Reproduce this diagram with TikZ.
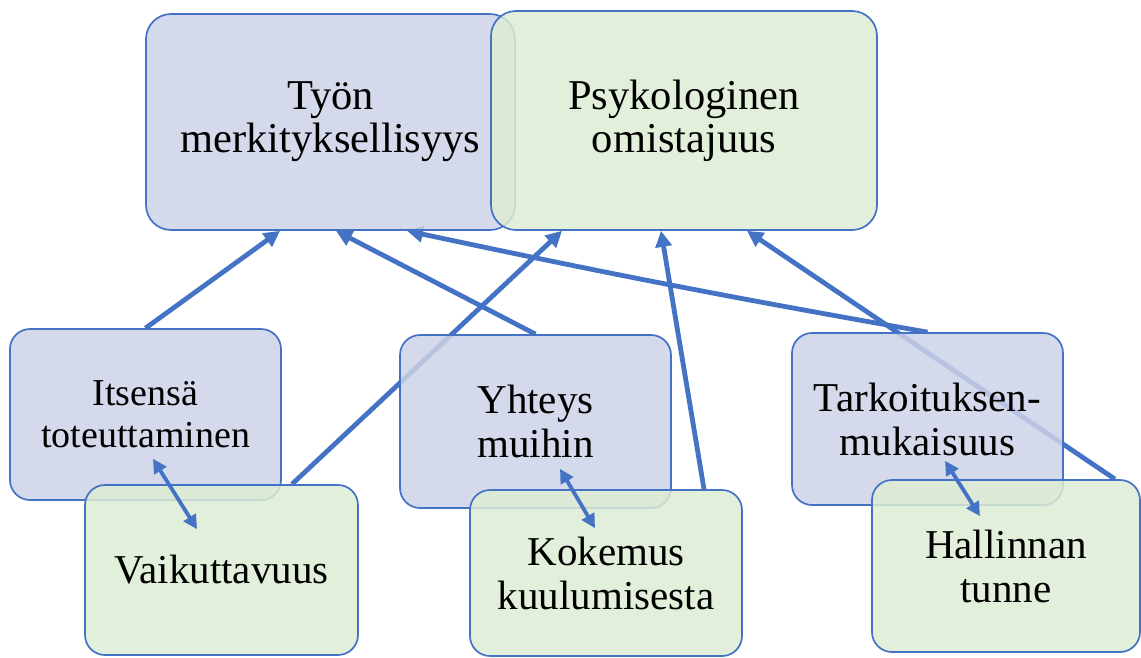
\documentclass[tikz,border=0pt]{standalone}
\usepackage{fontspec}
\setmainfont{Liberation Serif}
\usetikzlibrary{arrows.meta}
\pgfdeclarelayer{links}
\pgfdeclarelayer{front}
\pgfsetlayers{links,main,front}
\definecolor{edgeblue}{RGB}{68,114,196}
\definecolor{boxblue}{RGB}{204,210,231}
\definecolor{boxgreen}{RGB}{221,236,211}
\begin{document}
\begin{tikzpicture}[x=1pt,y=-1pt,
  box/.style={draw=edgeblue, line width=1.7pt, fill opacity=0.85, text opacity=1,
    align=center, inner sep=0pt, rounded corners=20pt,
    font=\fontsize{41}{44}\selectfont},
  bluebox/.style={box, fill=boxblue},
  greenbox/.style={box, fill=boxgreen},
  bigbox/.style={rounded corners=25pt, font=\fontsize{42.5}{43}\selectfont},
  link/.style={draw=edgeblue, line width=4.8pt, -{Triangle[length=16pt,width=16pt]}},
  pairlink/.style={draw=edgeblue, line width=3.8pt,
    {Triangle[length=14pt,width=14pt]}-{Triangle[length=14pt,width=14pt]}}
]
\useasboundingbox (0,0) rectangle (1141,657);

% upper pair of concepts
\node[bluebox, bigbox, minimum width=369pt, minimum height=216pt] (tyon) at (330.5,122)
  {Työn\\merkityksellisyys};
\node[greenbox, bigbox, minimum width=386pt, minimum height=219pt] (psyk) at (684,120.5)
  {Psykologinen\\omistajuus};

% lower row: blue and green boxes in overlapping pairs
\node[bluebox, minimum width=271pt, minimum height=171pt,
  font=\fontsize{38}{42}\selectfont] (its) at (145.5,414.5) {Itsensä\\toteuttaminen};
\node[greenbox, minimum width=273pt, minimum height=170pt] (vaik) at (221.5,570) {Vaikuttavuus};

\node[bluebox, minimum width=271pt, minimum height=173pt] (yht) at (535.5,421.5) {Yhteys\\muihin};
\node[greenbox, minimum width=272pt, minimum height=166pt] (kok) at (606,573) {Kokemus\\kuulumisesta};

\node[bluebox, minimum width=271pt, minimum height=172pt] (tark) at (927.5,419) {Tarkoituksen-\\mukaisuus};
\node[greenbox, minimum width=268pt, minimum height=172pt] (hal) at (1006,566) {Hallinnan\\tunne};

% upward links run behind the boxes
\begin{pgfonlayer}{links}
  \draw[link] (its.north) -- ([xshift=-50.5pt]tyon.south);
  \draw[link] ([xshift=70.5pt]vaik.north) -- ([xshift=-122pt]psyk.south);
  \draw[link] (yht.north) -- ([xshift=5.5pt]tyon.south);
  \draw[link] ([xshift=98pt]kok.north) -- ([xshift=-23pt]psyk.south);
  \draw[link] (tark.north) to[bend left=1] ([xshift=76.5pt]tyon.south);
  \draw[link] ([xshift=109pt]hal.north) -- ([xshift=63pt]psyk.south);
\end{pgfonlayer}

% two-way links between each blue box and its green box
\begin{pgfonlayer}{front}
  \draw[pairlink] ([xshift=7.5pt,yshift=42pt]its.south) -- ([xshift=-24.5pt,yshift=-45pt]vaik.north);
  \draw[pairlink] ([xshift=24.5pt,yshift=40pt]yht.south) -- ([xshift=-11pt,yshift=-39pt]kok.north);
  \draw[pairlink] ([xshift=17.5pt,yshift=45pt]tark.south) -- ([xshift=-26pt,yshift=-37pt]hal.north);
\end{pgfonlayer}
\end{tikzpicture}
\end{document}
